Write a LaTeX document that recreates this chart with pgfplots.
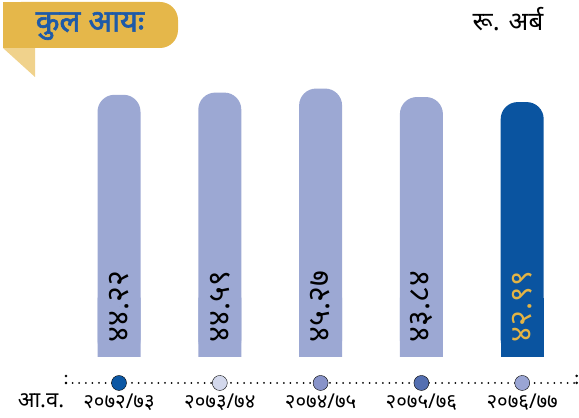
\documentclass[border=0pt]{standalone}
\usepackage{pgfplots}
\pgfplotsset{compat=1.18}
\usepackage{fontspec}
\setmainfont[Script=Devanagari]{Noto Sans}
\newfontfamily\devbold[Script=Devanagari, FakeBold=2]{Noto Sans}
\definecolor{lightbar}{HTML}{9CA8D3}
\definecolor{darkbar}{HTML}{0A54A0}
\definecolor{goldtext}{HTML}{E3B445}
\definecolor{banner}{HTML}{E5B74A}
\definecolor{foldc}{HTML}{F0D28C}
\definecolor{titleblue}{HTML}{1E5AA8}
\definecolor{ca}{HTML}{0B57A4}
\definecolor{cb}{HTML}{D3D8EC}
\definecolor{cc}{HTML}{8893C9}
\definecolor{cd}{HTML}{546FB1}
\definecolor{ce}{HTML}{9AA5D4}
\begin{document}
\begin{tikzpicture}
\useasboundingbox (0,0) rectangle (579bp,418bp);
% banner
\fill[foldc] (3bp,370bp) -- (35bp,370bp) -- (35bp,341bp) -- cycle;
\fill[banner] (3bp,370bp) rectangle (40bp,416bp);
\fill[banner, rounded corners=18bp] (3bp,370bp) rectangle (178bp,416bp);
\node[text=titleblue, font=\devbold\fontsize{31}{31}\selectfont] at (90bp,392bp) {कुल आयः};
\node[font=\fontsize{26}{26}\selectfont] at (508bp,399bp) {रू. अर्ब};
\node[anchor=base, font=\fontsize{22}{22}\selectfont] at (41bp,11bp) {आ.व.};
\begin{axis}[
  x=100.8bp, y=5.93bp,
  anchor=origin, at={(119bp,61bp)},
  xmin=-0.6, xmax=4.6, ymin=0, ymax=46,
  clip=false,
  axis line style={draw=none},
  major tick style={draw=none},
  ytick=\empty,
  xtick={0,1,2,3,4},
  xticklabels={२०७२/७३,२०७३/७४,२०७४/७५,२०७५/७६,२०७६/७७},
  xticklabel style={anchor=base, yshift=-51bp, font=\fontsize{20.5}{20.5}\selectfont},
  bar width=43bp,
]
\addplot[ybar, bar shift=0pt, fill=lightbar, draw=none, rounded corners=17bp] coordinates {(0,44.22) (1,44.59) (2,45.27) (3,43.84)};
\addplot[ybar, bar shift=0pt, fill=lightbar, draw=none] coordinates {(0,10) (1,10) (2,10) (3,10)};
\addplot[ybar, bar shift=0pt, fill=darkbar, draw=none, rounded corners=17bp] coordinates {(4,42.99)};
\addplot[ybar, bar shift=0pt, fill=darkbar, draw=none] coordinates {(4,10)};
% value labels
\addplot[only marks, mark=*, mark size=0pt, mark options={draw=none, fill=none},
  nodes near coords, point meta=explicit symbolic,
  nodes near coords style={rotate=90, anchor=center, text=black, font=\fontsize{30.5}{30.5}\selectfont}]
  table[meta=l] {
x y l
0 8.5 ४४.२२
1 8.5 ४४.५९
2 8.5 ४५.२७
3 8.5 ४३.८४
};
\addplot[only marks, mark=*, mark size=0pt, mark options={draw=none, fill=none},
  nodes near coords, point meta=explicit symbolic,
  nodes near coords style={rotate=90, anchor=center, text=goldtext, font=\fontsize{30.5}{30.5}\selectfont}]
  table[meta=l] {
x y l
4 8.5 ४२.९९
};
% dotted timeline
\addplot[black, line width=2bp, line cap=round, dash pattern=on 0pt off 6.6bp] coordinates {(-0.526,-4.38) (4.54,-4.38)};
\addplot[only marks, mark=*, mark size=1.1bp, black] coordinates {(-0.526,-3.2) (4.54,-3.2) (-0.526,-4.38) (4.54,-4.38)};
\addplot[scatter, only marks, scatter src=explicit symbolic,
  scatter/classes={
    a={mark=*, mark size=7.5bp, draw=none, fill=ca},
    b={mark=*, mark size=7.5bp, draw=none, fill=cb},
    c={mark=*, mark size=7.5bp, draw=none, fill=cc},
    d={mark=*, mark size=7.5bp, draw=none, fill=cd},
    e={mark=*, mark size=7.5bp, draw=none, fill=ce}}]
  table[meta=l] {
x y l
0 -4.38 a
1 -4.38 b
2 -4.38 c
3 -4.38 d
4 -4.38 e
};
\end{axis}
\end{tikzpicture}
\end{document}
